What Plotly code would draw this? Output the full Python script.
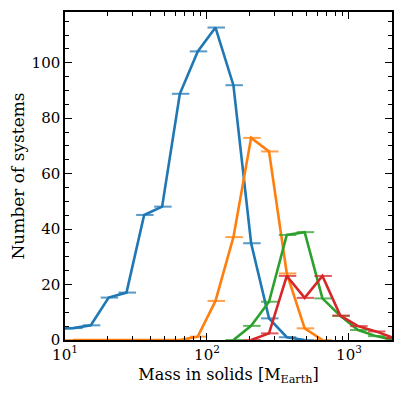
import plotly.graph_objects as go

# Data (x = mass in solids [M_Earth], y = number of systems)
blue_x = [8.5, 11.4, 15.2, 20.3, 27.1, 36.1, 48.3, 64.4, 86.1, 114.8, 153.5, 204.6, 273.5, 364.8, 487.5]
blue_y = [4.0, 4.3, 5.3, 15.3, 17.1, 45.1, 48.1, 88.8, 104.1, 112.7, 91.9, 34.9, 7.8, 1.0, 0.0]

orange_x = [11.4, 15.2, 20.3, 27.1, 36.1, 48.3, 64.4, 86.1, 114.8, 153.5, 204.6, 273.5, 364.8, 487.5, 650.1]
orange_y = [0, 0, 0, 0, 0, 0, 0, 1.2, 14.1, 37.1, 72.9, 68.0, 24.0, 4.2, 0]

green_x = [153.5, 204.6, 273.5, 364.8, 487.5, 650.1, 868.9, 1158.8, 1548.8, 2065.0]
green_y = [0, 5.1, 13.8, 37.9, 38.9, 15.0, 8.7, 3.6, 1.4, 0]

red_x = [204.6, 273.5, 364.8, 487.5, 650.1, 868.9, 1158.8, 1548.8, 2065.0]
red_y = [0, 2.4, 23.1, 15.2, 23.1, 8.8, 5.0, 3.1, 0.7]

series = [
    (blue_x, blue_y, "#1f77b4", "rgba(31,119,180,0.75)"),
    (orange_x, orange_y, "#ff7f0e", "rgba(255,127,14,0.75)"),
    (green_x, green_y, "#2ca02c", "rgba(44,160,44,0.75)"),
    (red_x, red_y, "#d62728", "rgba(214,39,40,0.75)"),
]

PLUS = 0.1666
MINUS = 0.1216

fig = go.Figure()
for xs, ys, col, ecol in series:
    fig.add_trace(go.Scatter(
        x=xs, y=ys, mode="lines",
        line=dict(color=col, width=2.6),
        error_x=dict(type="data", symmetric=False,
                     array=[v * PLUS for v in xs],
                     arrayminus=[v * MINUS for v in xs],
                     color=ecol, thickness=2, width=0),
        showlegend=False, hoverinfo="skip",
    ))

font_family = "DejaVu Serif"
fig.update_layout(
    width=403, height=386,
    margin=dict(l=57, r=19, t=4, b=54),
    plot_bgcolor="white", paper_bgcolor="white",
    font=dict(family=font_family, size=15, color="black"),
)
fig.update_xaxes(
    type="log", range=[1, 3.303],
    tickvals=[10, 100, 1000],
    ticktext=["10<sup>1</sup>", "10<sup>2</sup>", "10<sup>3</sup>"],
    ticks="inside", ticklen=7, tickwidth=1.2, tickcolor="black",
    minor=dict(ticks="inside", ticklen=4, tickwidth=1, tickcolor="black", dtick="D1", showgrid=False),
    showline=True, linecolor="black", linewidth=1.5, mirror="allticks",
    showgrid=False, zeroline=False, automargin=False,
    title=dict(text="Mass in solids [M<sub>Earth</sub>]", standoff=6, font=dict(size=16)),
)
fig.update_yaxes(
    range=[0, 118.3],
    tickvals=[0, 20, 40, 60, 80, 100],
    ticks="inside", ticklen=7, tickwidth=1.2, tickcolor="black",
    minor=dict(ticks="inside", ticklen=4, tickwidth=1, tickcolor="black", dtick=5, showgrid=False),
    showline=True, linecolor="black", linewidth=1.5, mirror="allticks",
    showgrid=False, zeroline=False, automargin=False,
    title=dict(text="Number of systems", standoff=8, font=dict(size=17)),
)

fig.write_html("out.html")
